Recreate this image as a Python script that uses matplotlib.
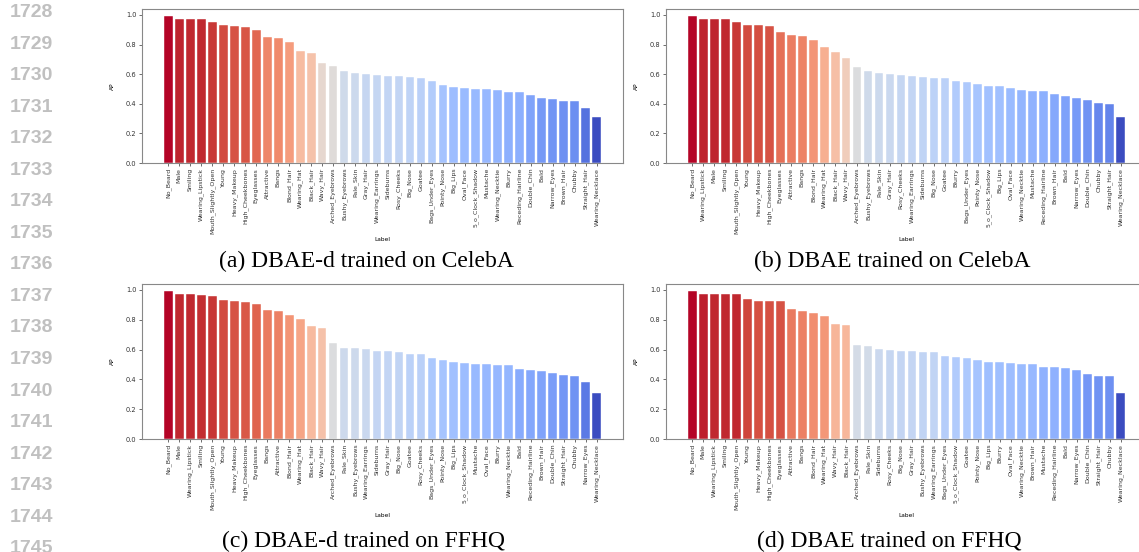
import matplotlib
matplotlib.use("Agg")
import matplotlib.pyplot as plt
import numpy as np

# panel (a) DBAE-d / CelebA
labels_a = ["No_Beard", "Male", "Smiling", "Wearing_Lipstick", "Mouth_Slightly_Open", "Young",
            "Heavy_Makeup", "High_Cheekbones", "Eyeglasses", "Attractive", "Bangs", "Blond_Hair",
            "Wearing_Hat", "Black_Hair", "Wavy_Hair", "Arched_Eyebrows", "Bushy_Eyebrows", "Pale_Skin",
            "Gray_Hair", "Wearing_Earrings", "Sideburns", "Rosy_Cheeks", "Big_Nose", "Goatee",
            "Bags_Under_Eyes", "Pointy_Nose", "Big_Lips", "Oval_Face", "5_o_Clock_Shadow", "Mustache",
            "Wearing_Necktie", "Blurry", "Receding_Hairline", "Double_Chin", "Bald", "Narrow_Eyes",
            "Brown_Hair", "Chubby", "Straight_Hair", "Wearing_Necklace"]
ap_a = [0.993, 0.973, 0.971, 0.971, 0.955, 0.933, 0.926, 0.919, 0.899, 0.854, 0.847, 0.818,
        0.757, 0.742, 0.676, 0.658, 0.618, 0.611, 0.598, 0.593, 0.589, 0.589, 0.582, 0.571,
        0.555, 0.528, 0.512, 0.506, 0.503, 0.501, 0.492, 0.481, 0.479, 0.456, 0.436, 0.429,
        0.420, 0.418, 0.371, 0.310]

# panel (b) DBAE / CelebA
labels_b = ["No_Beard", "Wearing_Lipstick", "Male", "Smiling", "Mouth_Slightly_Open", "Young",
            "Heavy_Makeup", "High_Cheekbones", "Eyeglasses", "Attractive", "Bangs", "Blond_Hair",
            "Wearing_Hat", "Black_Hair", "Wavy_Hair", "Arched_Eyebrows", "Bushy_Eyebrows", "Pale_Skin",
            "Gray_Hair", "Rosy_Cheeks", "Wearing_Earrings", "Sideburns", "Big_Nose", "Goatee",
            "Blurry", "Bags_Under_Eyes", "Pointy_Nose", "5_o_Clock_Shadow", "Big_Lips", "Oval_Face",
            "Wearing_Necktie", "Mustache", "Receding_Hairline", "Brown_Hair", "Bald", "Narrow_Eyes",
            "Double_Chin", "Chubby", "Straight_Hair", "Wearing_Necklace"]
ap_b = [0.993, 0.973, 0.973, 0.971, 0.953, 0.933, 0.930, 0.924, 0.885, 0.865, 0.858, 0.829,
        0.784, 0.748, 0.712, 0.647, 0.618, 0.611, 0.604, 0.593, 0.589, 0.584, 0.575, 0.573,
        0.551, 0.546, 0.533, 0.521, 0.519, 0.506, 0.492, 0.488, 0.483, 0.465, 0.454, 0.440,
        0.427, 0.404, 0.400, 0.310]

# panel (c) DBAE-d / FFHQ
labels_c = ["No_Beard", "Male", "Wearing_Lipstick", "Smiling", "Mouth_Slightly_Open", "Young",
            "Heavy_Makeup", "High_Cheekbones", "Eyeglasses", "Bangs", "Attractive", "Blond_Hair",
            "Wearing_Hat", "Black_Hair", "Wavy_Hair", "Arched_Eyebrows", "Pale_Skin", "Bushy_Eyebrows",
            "Wearing_Earrings", "Sideburns", "Gray_Hair", "Big_Nose", "Goatee", "Rosy_Cheeks",
            "Bags_Under_Eyes", "Pointy_Nose", "Big_Lips", "5_o_Clock_Shadow", "Mustache", "Oval_Face",
            "Blurry", "Wearing_Necktie", "Bald", "Receding_Hairline", "Brown_Hair", "Double_Chin",
            "Straight_Hair", "Chubby", "Narrow_Eyes", "Wearing_Necklace"]
ap_c = [0.993, 0.971, 0.971, 0.966, 0.957, 0.933, 0.926, 0.917, 0.904, 0.868, 0.861, 0.832,
        0.803, 0.758, 0.743, 0.647, 0.613, 0.611, 0.604, 0.591, 0.588, 0.586, 0.573, 0.570,
        0.541, 0.530, 0.519, 0.510, 0.503, 0.501, 0.497, 0.494, 0.470, 0.463, 0.454, 0.443,
        0.430, 0.425, 0.383, 0.309]

# panel (d) DBAE / FFHQ
labels_d = ["No_Beard", "Male", "Wearing_Lipstick", "Smiling", "Mouth_Slightly_Open", "Young",
            "Heavy_Makeup", "High_Cheekbones", "Eyeglasses", "Attractive", "Bangs", "Blond_Hair",
            "Wearing_Hat", "Wavy_Hair", "Black_Hair", "Arched_Eyebrows", "Pale_Skin", "Sideburns",
            "Rosy_Cheeks", "Big_Nose", "Gray_Hair", "Bushy_Eyebrows", "Wearing_Earrings",
            "Bags_Under_Eyes", "5_o_Clock_Shadow", "Goatee", "Pointy_Nose", "Big_Lips", "Blurry",
            "Oval_Face", "Wearing_Necktie", "Brown_Hair", "Mustache", "Receding_Hairline", "Bald",
            "Narrow_Eyes", "Double_Chin", "Straight_Hair", "Chubby", "Wearing_Necklace"]
ap_d = [0.993, 0.975, 0.971, 0.971, 0.971, 0.940, 0.928, 0.928, 0.924, 0.872, 0.861, 0.843,
        0.826, 0.770, 0.767, 0.629, 0.624, 0.606, 0.597, 0.591, 0.591, 0.586, 0.586,
        0.559, 0.552, 0.544, 0.530, 0.515, 0.515, 0.510, 0.506, 0.501, 0.485, 0.483, 0.474,
        0.461, 0.434, 0.425, 0.421, 0.309]

captions = ["(a) DBAE-d trained on CelebA", "(b) DBAE trained on CelebA",
            "(c) DBAE-d trained on FFHQ", "(d) DBAE trained on FFHQ"]
line_numbers = list(range(1728, 1746))

W, H = 1139, 552
fig = plt.figure(figsize=(W / 100, H / 100), dpi=100)


def px_axes(left, top, right, bottom):
    return fig.add_axes([left / W, 1 - bottom / H, (right - left) / W, (bottom - top) / H])


panels = [
    (labels_a, ap_a, (142, 9, 623, 163)),
    (labels_b, ap_b, (666, 9, 1147, 163)),
    (labels_c, ap_c, (142, 284, 623, 439)),
    (labels_d, ap_d, (666, 284, 1147, 439)),
]

cmap = plt.cm.coolwarm
for labels, ap, box in panels:
    ax = px_axes(*box)
    vals = np.array(ap)
    norm = (vals - vals.min()) / (vals.max() - vals.min())
    x = np.arange(len(labels))
    ax.bar(x, vals, width=0.8, color=cmap(norm), edgecolor="white", linewidth=0.3)
    ax.set_xticks(x)
    ax.set_xticklabels(labels, rotation=90, fontsize=4.5)
    ax.set_xlim(-2.4, len(labels) + 1.4)
    ax.set_ylim(0, 1.04)
    ax.set_yticks([0.0, 0.2, 0.4, 0.6, 0.8, 1.0])
    ax.tick_params(axis="y", labelsize=4.8, length=2, width=0.5, pad=2, colors="#333333")
    ax.tick_params(axis="x", length=2, width=0.5, pad=1.5, colors="#333333")
    ax.set_ylabel("AP", fontsize=4.2, labelpad=8)
    ax.set_xlabel("Label", fontsize=4.2, labelpad=2)
    for s in ax.spines.values():
        s.set_color("#888888")
        s.set_linewidth(0.8)

cap_pos = [(366, 267), (892, 267), (364, 547), (889, 547)]
for (cx, cy), txt in zip(cap_pos, captions):
    fig.text(cx / W, 1 - cy / H, txt, ha="center", va="baseline",
             fontsize=17, family="Liberation Serif", color="black")

for i, n in enumerate(line_numbers):
    fig.text(10 / W, 1 - (12.5 + 31.55 * i) / H, str(n), ha="left", va="center",
             fontsize=14, family="Liberation Sans", weight="bold", color="#c0c0c0")

fig.savefig("out.png", dpi=100)
